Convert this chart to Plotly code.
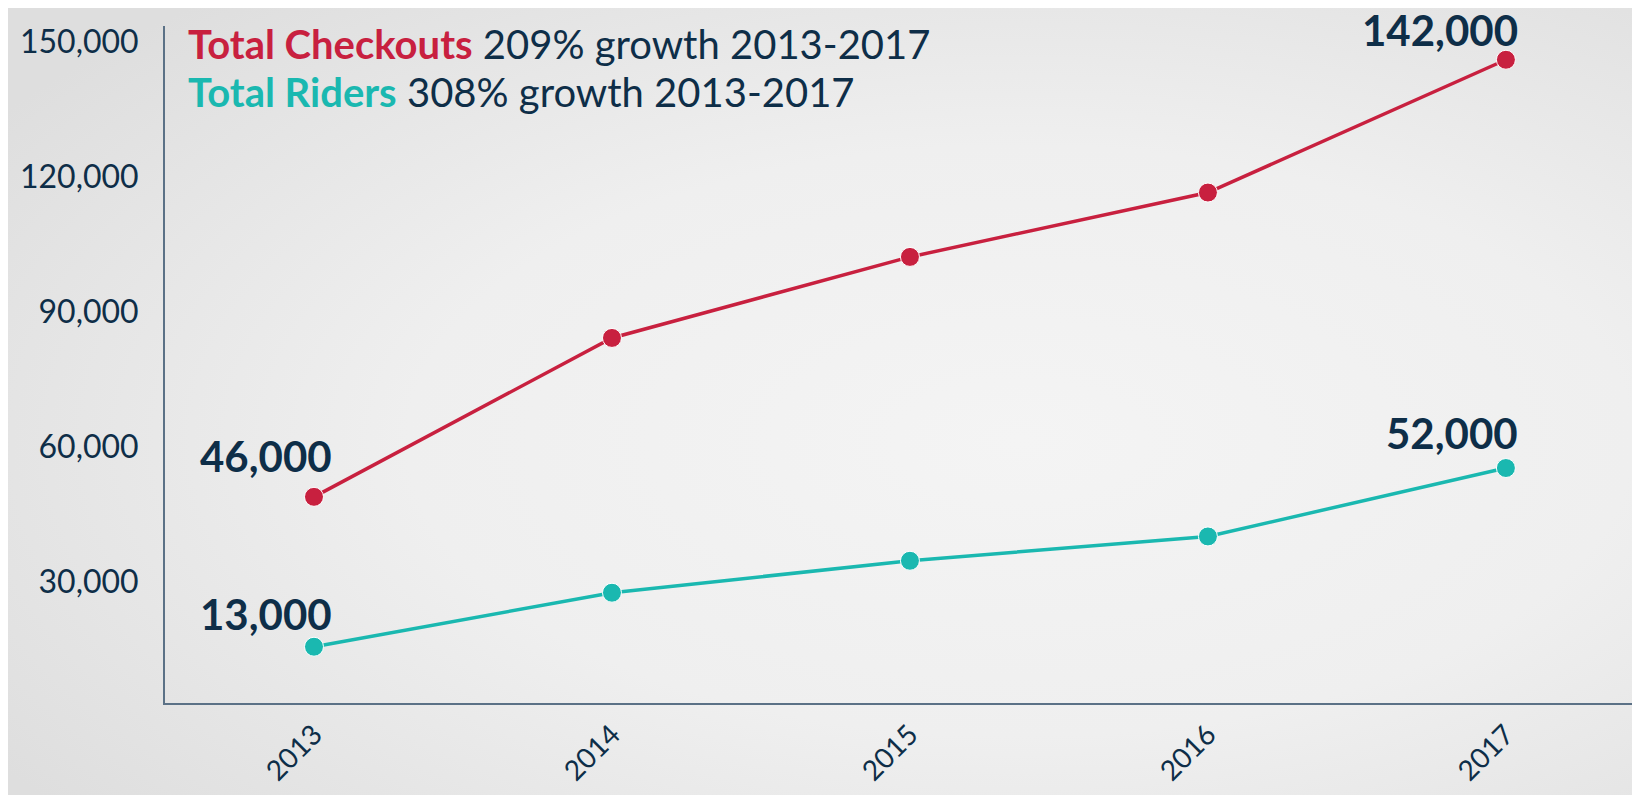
import base64
import plotly.graph_objects as go

years = [2013, 2014, 2015, 2016, 2017]
checkouts = [48900, 84200, 102200, 116500, 146000]
riders = [15600, 27600, 34700, 40100, 55300]

label_years = [2013, 2017]
checkout_labels = ['46,000', '142,000']
rider_labels = ['13,000', '52,000']
checkout_label_y = [48900, 146000]
rider_label_y = [15600, 55300]

y_ticks = [30000, 60000, 90000, 120000, 150000]

red = '#c8203f'
teal = '#1ab8b0'
navy = '#0e2e48'
font = 'Lato'

W, H = 1632, 787
L, R, T, B = 157, 0, 18, 92
pw, ph = W - L - R, H - T - B

# soft radial background like the original slide
svg = ('<svg xmlns="http://www.w3.org/2000/svg" width="100" height="100" preserveAspectRatio="none">'
       '<defs><radialGradient id="g" cx="0.62" cy="0.55" r="0.75">'
       '<stop offset="0" stop-color="#f4f4f4"/><stop offset="0.5" stop-color="#efefef"/>'
       '<stop offset="1" stop-color="#dedede"/></radialGradient></defs>'
       '<rect width="100" height="100" fill="url(#g)"/></svg>')
bg = 'data:image/svg+xml;base64,' + base64.b64encode(svg.encode()).decode()

fig = go.Figure()
fig.add_trace(go.Scatter(x=years, y=checkouts, mode='lines+markers',
                         line=dict(color=red, width=3.5),
                         marker=dict(size=19, color=red, line=dict(color='white', width=1))))
fig.add_trace(go.Scatter(x=years, y=riders, mode='lines+markers',
                         line=dict(color=teal, width=3.5),
                         marker=dict(size=19, color=teal, line=dict(color='white', width=1))))

# value labels at the ends of each line
for x, y, t, xs, ys in zip(label_years, checkout_label_y, checkout_labels, [20, 14], [41, 30]):
    fig.add_annotation(x=x, y=y, text='<b>' + t + '</b>', showarrow=False,
                       xanchor='right', yanchor='middle', xshift=xs, yshift=ys,
                       font=dict(family=font, size=42, color=navy))
for x, y, t, xs, ys in zip(label_years, rider_label_y, rider_labels, [20, 14], [33, 35]):
    fig.add_annotation(x=x, y=y, text='<b>' + t + '</b>', showarrow=False,
                       xanchor='right', yanchor='middle', xshift=xs, yshift=ys,
                       font=dict(family=font, size=42, color=navy))

# legend-like title lines
fig.add_annotation(xref='paper', yref='paper', x=0.0142, y=0.9734,
                   text="<b><span style='color:" + red + "'>Total Checkouts</span></b> 209% growth 2013-2017",
                   showarrow=False, xanchor='left', yanchor='middle',
                   font=dict(family=font, size=40, color=navy))
fig.add_annotation(xref='paper', yref='paper', x=0.0142, y=0.9025,
                   text="<b><span style='color:" + teal + "'>Total Riders</span></b> 308% growth 2013-2017",
                   showarrow=False, xanchor='left', yanchor='middle',
                   font=dict(family=font, size=40, color=navy))

fig.add_layout_image(source=bg, xref='paper', yref='paper',
                     x=-L / pw, y=1 + T / ph, sizex=W / pw, sizey=H / ph,
                     xanchor='left', yanchor='top', sizing='stretch', layer='below')

fig.update_layout(
    width=W, height=H,
    margin=dict(l=L, r=R, t=T, b=B, autoexpand=False),
    paper_bgcolor='#e8e8e8', plot_bgcolor='rgba(0,0,0,0)',
    showlegend=False,
    xaxis=dict(range=[2012.5, 2017.45], tickvals=years, ticktext=[str(y) for y in years],
               tickangle=-45, showgrid=False, zeroline=False, automargin=False,
               showline=True, linecolor='#5b7186', linewidth=2,
               ticklabelstandoff=2,
               tickfont=dict(family=font, size=28, color=navy)),
    yaxis=dict(range=[3100, 153500], tickvals=y_ticks, tickformat=',d',
               showgrid=False, zeroline=False, automargin=False,
               showline=True, linecolor='#5b7186', linewidth=2,
               ticklabelstandoff=18,
               tickfont=dict(family=font, size=32, color=navy)),
)

fig.write_html('out.html')
